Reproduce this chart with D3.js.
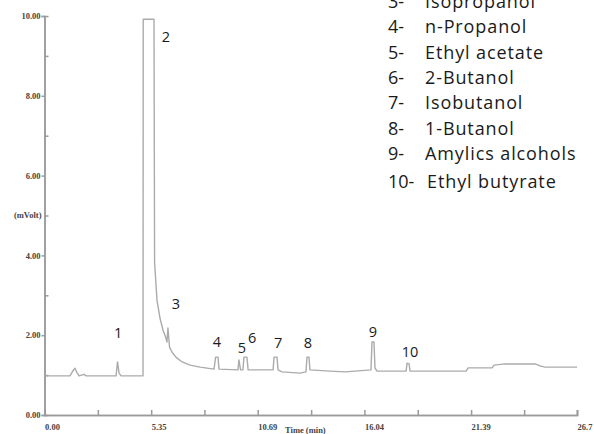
<!DOCTYPE html>
<html>
<head>
<meta charset="utf-8">
<script src="https://cdn.jsdelivr.net/npm/d3@7"></script>
<style>
  body { margin: 0; background: #fff; }
  svg { display: block; }
</style>
</head>
<body>
<svg id="chrom_svg" width="594" height="434"></svg>
<script>
// Chromatogram data (time in min, signal in mV)
const traceTime = [0, 1.28, 1.43, 1.53, 1.63, 1.73, 1.98, 2.08, 3.59, 3.66, 3.74, 3.84, 4.94, 4.95, 5.49, 5.52, 5.64, 5.79, 5.94, 6.09, 6.14, 6.19, 6.27, 6.39, 6.59, 6.90, 7.30, 7.80, 8.50, 8.58, 8.70, 8.75, 9.70, 9.75, 9.83, 9.95, 10.00, 10.15, 10.21, 11.46, 11.51, 11.66, 11.71, 11.91, 12.81, 13.11, 13.16, 13.26, 13.31, 14.32, 15.07, 16.37, 16.42, 16.52, 16.57, 16.67, 18.13, 18.18, 18.28, 18.33, 21.14, 21.24, 22.44, 22.54, 23.09, 24.60, 24.85, 25.10, 26.70];
const traceSignal = [0.98, 0.98, 1.11, 1.17, 1.06, 0.98, 1.02, 0.98, 0.98, 1.33, 1.05, 0.98, 0.98, 9.92, 9.92, 3.83, 2.88, 2.43, 2.13, 1.93, 1.83, 2.18, 1.70, 1.58, 1.45, 1.33, 1.25, 1.20, 1.15, 1.45, 1.45, 1.15, 1.13, 1.38, 1.13, 1.13, 1.45, 1.45, 1.13, 1.13, 1.45, 1.45, 1.13, 1.08, 1.05, 1.08, 1.45, 1.45, 1.13, 1.10, 1.08, 1.13, 1.83, 1.83, 1.18, 1.10, 1.10, 1.30, 1.28, 1.10, 1.10, 1.18, 1.18, 1.25, 1.28, 1.28, 1.23, 1.20, 1.20];

// Peak number labels
const peakLabels = ['1', '2', '3', '4', '5', '6', '7', '8', '9', '10'];
const peakLabelTime = [3.69, 6.09, 6.59, 8.65, 9.90, 10.41, 11.71, 13.21, 16.47, 18.33];
const peakLabelSignal = [2.06, 9.47, 2.78, 1.83, 1.68, 1.93, 1.80, 1.80, 2.08, 1.58];

// Compound legend (entries 1- and 2- are above the visible frame)
const legendNumbers = ['3-', '4-', '5-', '6-', '7-', '8-', '9-', '10-'];
const legendNames = ['Isopropanol', 'n-Propanol', 'Ethyl acetate', '2-Butanol', 'Isobutanol', '1-Butanol', 'Amylics alcohols', 'Ethyl butyrate'];

// Axis ticks
const xTicks = [0, 5.35, 10.69, 16.04, 21.39, 26.7];
const xTickLabels = ['0.00', '5.35', '10.69', '16.04', '21.39', '26.7'];
const xMinorTicks = [2.675, 8.02, 13.37, 18.715, 24.05];
const yTicks = [0, 2, 4, 6, 8, 10];
const yTickLabels = ['0.00', '2.00', '4.00', '6.00', '8.00', '10.00'];
const yMinorTicks = [1, 3, 5, 7, 9];

const axisColor = '#9a9a9a';
const traceColor = '#ababab';
const tickFont = '"Liberation Serif", serif';
const textFont = '"Open Sans", "Noto Sans", sans-serif';

let svg = d3.select('#chrom_svg');

// Scales
const x = d3.scaleLinear().domain([0, 26.7]).range([44.5, 577]);
const y = d3.scaleLinear().domain([0, 10]).range([415, 16]);

// X axis
const xAxis = svg.append('g')
    .attr('transform', `translate(0,${y(0)})`)
    .call(d3.axisBottom(x).tickValues(xTicks).tickSize(-5).tickPadding(3)
        .tickFormat((d, i) => xTickLabels[i]));
xAxis.selectAll('text')
    .attr('text-anchor', 'start')
    .attr('y', 9)
    .style('font-family', tickFont)
    .style('font-weight', 'bold')
    .style('font-size', '8.5px')
    .attr('fill', '#444');
svg.append('g')
    .attr('transform', `translate(0,${y(0)})`)
    .call(d3.axisBottom(x).tickValues(xMinorTicks).tickSize(-5).tickFormat(''));

// Y axis
const yAxis = svg.append('g')
    .attr('transform', `translate(${x(0)},0)`)
    .call(d3.axisLeft(y).tickValues(yTicks).tickSize(3).tickPadding(1)
        .tickFormat((d, i) => yTickLabels[i]));
yAxis.selectAll('text')
    .style('font-family', tickFont)
    .style('font-weight', 'bold')
    .style('font-size', '8.5px')
    .attr('fill', '#444');
svg.append('g')
    .attr('transform', `translate(${x(0)},0)`)
    .call(d3.axisLeft(y).tickValues(yMinorTicks).tickSize(-4).tickFormat(''));

svg.selectAll('.domain, .tick line')
    .attr('stroke', axisColor)
    .attr('stroke-width', 1.5);

// Axis titles
svg.append('text')
    .attr('x', x(0) - 3)
    .attr('y', y(5))
    .attr('dy', '0.32em')
    .attr('text-anchor', 'end')
    .style('font-family', tickFont)
    .style('font-weight', 'bold')
    .style('font-size', '8.5px')
    .attr('fill', '#444')
    .text('(mVolt)');

svg.append('text')
    .attr('x', 285)
    .attr('y', 433)
    .style('font-family', tickFont)
    .style('font-weight', 'bold')
    .style('font-size', '8.5px')
    .attr('fill', '#444')
    .text('Time (min)');

// Trace
const line = d3.line()
    .x((d, i) => x(traceTime[i]))
    .y(d => y(d));

svg.append('path')
    .datum(traceSignal)
    .attr('fill', 'none')
    .attr('stroke', traceColor)
    .attr('stroke-width', 1.4)
    .attr('stroke-linejoin', 'round')
    .attr('d', line);

// Peak labels
svg.selectAll('.peak-label')
    .data(peakLabels)
    .join('text')
    .attr('class', 'peak-label')
    .attr('x', (d, i) => x(peakLabelTime[i]))
    .attr('y', (d, i) => y(peakLabelSignal[i]))
    .attr('dy', '0.36em')
    .attr('text-anchor', 'middle')
    .style('font-family', textFont)
    .style('font-size', '14.5px')
    .attr('fill', '#1a1a1a')
    .text(d => d);

// Legend of compounds
legendNumbers.forEach((num, i) => {
    const base = i < 7 ? 8 + i * 25.3 : 188;
    svg.append('text')
        .attr('x', 388)
        .attr('y', base)
        .style('font-family', textFont)
        .style('font-size', '18px')
        .attr('fill', '#1a1a1a')
        .text(num);
    svg.append('text')
        .attr('x', i < 7 ? 425 : 427)
        .attr('y', base)
        .style('font-family', textFont)
        .style('font-size', '18px')
        .style('letter-spacing', '0.9px')
        .attr('fill', '#1a1a1a')
        .text(legendNames[i]);
});
</script>
</body>
</html>
